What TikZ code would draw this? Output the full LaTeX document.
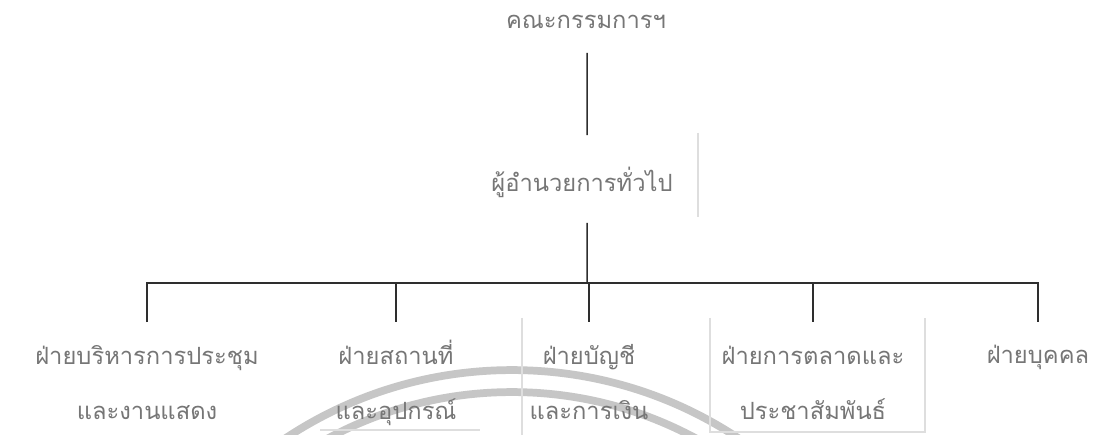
\documentclass[tikz,border=0pt]{standalone}
\usepackage{fontspec}
\usepackage{xcolor}
\usetikzlibrary{positioning,calc}
\newfontfamily\thaifont[Script=Thai]{Loma}
\definecolor{Paper}{HTML}{FFFFFF}
\definecolor{Ink}{HTML}{767676}
\definecolor{Wire}{HTML}{2E2E2E}
\definecolor{Ghost}{HTML}{DEDEDE}
\definecolor{Stamp}{HTML}{C6C6C6}
\tikzset{
  unit/.style={inner sep=0pt,align=center,anchor=base,text=Ink,font=\thaifont\fontsize{13.5}{31.5}\selectfont},
  link/.style={draw=Wire,line width=0.85pt},
  ghost/.style={draw=Ghost,line width=0.7pt},
  stamp/.style={draw=Stamp,line width=4.4pt}
}

\begin{document}
\begin{tikzpicture}[x=0.02cm,y=-0.02cm]
  \useasboundingbox[fill=Paper] (0,0) rectangle (1106,435);
  % stamp from the scan
  \begin{scope}
    \clip (0,0) rectangle (1106,435);
    \draw[stamp] (512,780) circle [radius=8.2cm];
    \draw[stamp] (512,780) circle [radius=7.76cm];
  \end{scope}
  % faint box edges
  \draw[ghost] (698,133) -- (698,217);
  \draw[ghost] (522,318) -- (522,435);
  \draw[ghost] (710,318) -- (710,432) -- (925,432) -- (925,318);
  \draw[ghost] (320,430) -- (480,430);

  \node[unit] (board) at (586,29) {คณะกรรมการฯ};
  \node[unit] (director) at (582,192) {ผู้อำนวยการทั่วไป};
  % two-line units sit on the baseline of their last line
  \node[unit] (events) at (147,420) {ฝ่ายบริหารการประชุม\\และงานแสดง};
  \node[unit] (venue) at (396,420) {ฝ่ายสถานที่\\และอุปกรณ์};
  \node[unit] (finance) at (589,420) {ฝ่ายบัญชี\\และการเงิน};
  \node[unit] (market) at (813,420) {ฝ่ายการตลาดและ\\ประชาสัมพันธ์};
  \node[unit] (staff) at (1038,364) {ฝ่ายบุคคล};

  \coordinate (bus) at (587,283);
  \draw[link] ([xshift=0.02cm,yshift=-0.48cm]board.base) -- ([xshift=0.1cm,yshift=1.14cm]director.base);
  \draw[link] ([xshift=0.1cm,yshift=-0.62cm]director.base) -- (bus);
  \draw[link] ([yshift=1.96cm]events.base) |- (bus) -| ([yshift=0.84cm]staff.base);
  \foreach \u in {venue,finance,market}
    \draw[link] (\u.base |- bus) -- ([yshift=1.96cm]\u.base);
\end{tikzpicture}
\end{document}
